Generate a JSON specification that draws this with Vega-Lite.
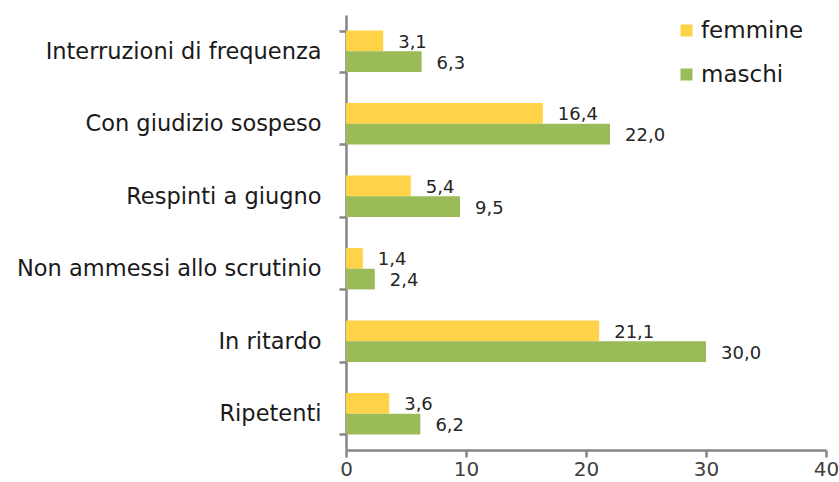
{
  "$schema": "https://vega.github.io/schema/vega-lite/v6.json",
  "width": 480,
  "height": 435,
  "autosize": "none",
  "padding": {"left": 346, "top": 15, "right": 13, "bottom": 32},
  "background": "white",
  "config": {
    "view": {"stroke": null},
    "font": "DejaVu Sans",
    "locale": {"number": {"decimal": ",", "thousands": ".", "grouping": [3], "currency": ["", " €"]}}
  },
  "data": {
    "values": [
      {"categoria": "Interruzioni di frequenza", "sesso": "femmine", "valore": 3.1},
      {"categoria": "Interruzioni di frequenza", "sesso": "maschi", "valore": 6.3},
      {"categoria": "Con giudizio sospeso", "sesso": "femmine", "valore": 16.4},
      {"categoria": "Con giudizio sospeso", "sesso": "maschi", "valore": 22.0},
      {"categoria": "Respinti a giugno", "sesso": "femmine", "valore": 5.4},
      {"categoria": "Respinti a giugno", "sesso": "maschi", "valore": 9.5},
      {"categoria": "Non ammessi allo scrutinio", "sesso": "femmine", "valore": 1.4},
      {"categoria": "Non ammessi allo scrutinio", "sesso": "maschi", "valore": 2.4},
      {"categoria": "In ritardo", "sesso": "femmine", "valore": 21.1},
      {"categoria": "In ritardo", "sesso": "maschi", "valore": 30.0},
      {"categoria": "Ripetenti", "sesso": "femmine", "valore": 3.6},
      {"categoria": "Ripetenti", "sesso": "maschi", "valore": 6.2}
    ]
  },
  "encoding": {
    "y": {
      "field": "categoria",
      "type": "nominal",
      "sort": null,
      "scale": {"paddingInner": 0.43, "paddingOuter": 0.215},
      "axis": {
        "title": null,
        "domainColor": "#868686",
        "domainWidth": 2.5,
        "tickColor": "#868686",
        "tickWidth": 2.5,
        "tickSize": 7,
        "tickBand": "extent",
        "labelFontSize": 22.5,
        "labelColor": "#1a1a1a",
        "labelPadding": 18,
        "labelLimit": 340
      }
    },
    "yOffset": {
      "field": "sesso",
      "type": "nominal",
      "scale": {"domain": ["femmine", "maschi"], "paddingInner": 0, "paddingOuter": 0}
    },
    "x": {
      "field": "valore",
      "type": "quantitative",
      "scale": {"domain": [0, 40], "nice": false},
      "axis": {
        "title": null,
        "values": [0, 10, 20, 30, 40],
        "grid": false,
        "domainColor": "#868686",
        "domainWidth": 2.5,
        "tickColor": "#868686",
        "tickWidth": 2.5,
        "tickSize": 7,
        "labelFontSize": 20,
        "labelColor": "#404040",
        "labelPadding": 2,
        "labelFlush": false,
        "format": "d"
      }
    }
  },
  "layer": [
    {
      "mark": {"type": "bar"},
      "encoding": {
        "color": {
          "field": "sesso",
          "type": "nominal",
          "scale": {"domain": ["femmine", "maschi"], "range": ["#FFD347", "#9BBB59"]},
          "legend": {
            "title": null,
            "orient": "none",
            "legendX": 329,
            "legendY": 4,
            "symbolType": "square",
            "symbolSize": 144,
            "symbolStrokeWidth": 0,
            "labelFontSize": 23,
            "labelColor": "#1a1a1a",
            "labelOffset": 3,
            "rowPadding": 20
          }
        }
      }
    },
    {
      "mark": {"type": "text", "align": "left", "baseline": "middle", "dx": 15, "dy": 2, "fontSize": 18, "color": "#262626"},
      "encoding": {
        "text": {"field": "valore", "type": "quantitative", "format": ".1f"}
      }
    }
  ]
}
